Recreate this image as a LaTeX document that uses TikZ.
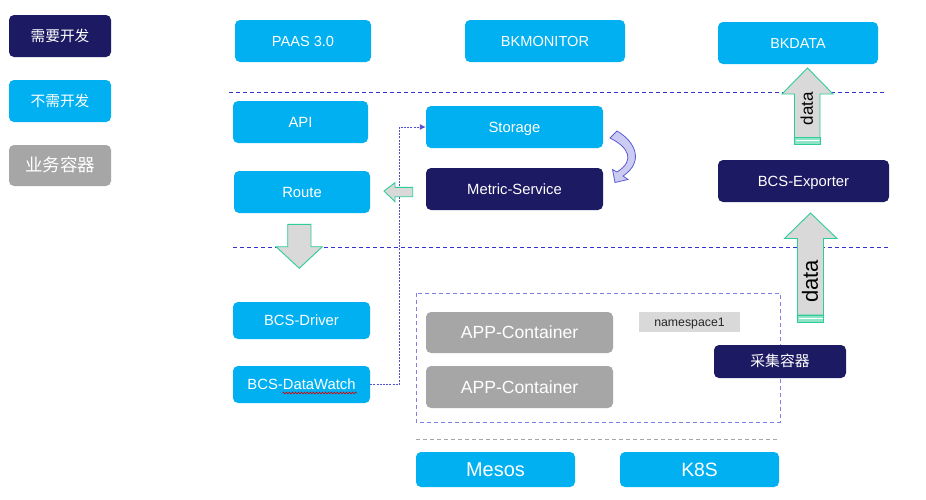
\documentclass[tikz,border=0pt]{standalone}
\usepackage{fontspec}
\setmainfont{Liberation Sans}
\newfontfamily\cjk{Noto Sans CJK SC}
\usetikzlibrary{arrows.meta,decorations.pathmorphing}
\definecolor{lblue}{HTML}{00B0F0}
\definecolor{navy}{HTML}{1C1A63}
\definecolor{cgray}{HTML}{A6A6A6}
\definecolor{sepblue}{HTML}{3333CC}
\definecolor{boxblue}{HTML}{7F7FE6}
\definecolor{arrgray}{HTML}{D9D9D9}
\definecolor{arrgreen}{HTML}{2ECC99}
\definecolor{stripe}{HTML}{8FE3C6}
\definecolor{lav}{HTML}{CCCCF2}
\definecolor{lavline}{HTML}{5B5BD6}
\definecolor{connc}{HTML}{5050D0}
\tikzset{
  boxb/.style={rounded corners=5pt, inner sep=0pt, text=white, align=center},
  lb/.style={boxb, fill=lblue},
  nv/.style={boxb, fill=navy},
  gy/.style={boxb, fill=cgray},
  fs/.style={font=\fontsize{#1}{#1}\selectfont, text height=0.72*#1, text depth=0},
  fr/.style={font=\fontsize{#1}{#1}\selectfont},
  sep/.style={draw=sepblue, dash pattern=on 4pt off 3pt, line width=0.8pt},
  blockarrow/.style={fill=arrgray, draw=arrgreen, line width=0.9pt, line join=miter},
  conn/.style={draw=connc, dash pattern=on 2pt off 1.2pt, line width=0.9pt, -{Latex[length=6pt,width=6pt]}},
}
\begin{document}
\begin{tikzpicture}[x=1pt,y=-1pt]
\useasboundingbox (0,0) rectangle (926,499);
\fill[white] (0,0) rectangle (926,499);

% legend
\node[nv, fs=14.7, minimum width=102, minimum height=42] (l1) at (60,36) {\cjk 需要开发};
\node[lb, fs=14.7, minimum width=102, minimum height=42] (l2) at (60,101) {\cjk 不需开发};
\node[gy, fs=17.5, minimum width=102, minimum height=41] (l3) at (60,165.5) {\cjk 业务容器};

% top row
\node[lb, fs=14.6, minimum width=136, minimum height=42] (paas) at (303,41) {PAAS 3.0};
\node[lb, fs=14.6, minimum width=160, minimum height=42] (bkmon) at (545,41) {BKMONITOR};
\node[lb, fs=14.4, minimum width=160, minimum height=42] (bkdata) at (798,43) {BKDATA};

% separators
\draw[sep] (229,92.5) -- (885,92.5);
\draw[sep] (233,247.5) -- (888,247.5);
\draw[draw=cgray, dash pattern=on 4pt off 3pt, line width=0.8pt] (416,439) -- (780,439);

% middle
\node[lb, fs=14.8, minimum width=135, minimum height=42] (api) at (300.5,122) {API};
\node[lb, fs=14.8, minimum width=136, minimum height=42] (route) at (302,192) {Route};
\node[lb, fs=14.8, minimum width=177, minimum height=42] (storage) at (514.5,127) {Storage};
\node[nv, fs=14.8, minimum width=177, minimum height=42] (metric) at (514.5,189) {Metric-Service};
\node[nv, fs=14.8, minimum width=171, minimum height=42] (exporter) at (803.5,181) {BCS-Exporter};

% lower
\node[lb, fs=14.8, minimum width=137, minimum height=37] (driver) at (301.5,320.5) {BCS-Driver};
\node[lb, fs=14.8, minimum width=137, minimum height=37] (dw) at (301.5,384.5) {BCS-DataWatch};
\draw[red!85!black, line width=0.6pt, decorate, decoration={snake, amplitude=0.9pt, segment length=3pt}] (282.5,393) -- (356.5,393);

\draw[draw=boxblue, dash pattern=on 4pt off 3pt, line width=0.8pt] (416,293) rectangle (780,422);
\node[gy, fs=17.6, minimum width=187, minimum height=41] (app1) at (519.5,332.5) {APP-Container};
\node[gy, fs=17.6, minimum width=187, minimum height=42] (app2) at (519.5,387) {APP-Container};
\node[fill=arrgray, inner sep=0pt, text=black!85, fs=12.3, minimum width=101, minimum height=20] (ns) at (689.5,322) {namespace1};
\node[nv, fs=14.8, minimum width=132, minimum height=33] (cj) at (780,361.5) {\cjk 采集容器};

\node[lb, fs=20, minimum width=159, minimum height=35] (mesos) at (495.5,469.5) {Mesos};
\node[lb, fs=19.3, minimum width=159, minimum height=35] (k8s) at (699.5,469.5) {K8S};

% connector
\draw[conn] (dw.east) -- ++(29,0) |- (storage.west);

% block arrow Metric -> Route
\draw[blockarrow] (384,191) -- (395,182.7) -- (395,187.3) -- (412.7,187.3) -- (412.7,196.7) -- (395,196.7) -- (395,201.7) -- cycle;
% block arrow Route -> down
\draw[blockarrow] (287.7,224.3) -- (311,224.3) -- (311,246.7) -- (322.3,246.7) -- (299.3,268.3) -- (276,246.7) -- (287.7,246.7) -- cycle;

% data arrow top
\draw[blockarrow] (807.5,68) -- (833,94) -- (820,94) -- (820,137.5) -- (794.5,137.5) -- (794.5,94) -- (782,94) -- cycle;
\draw[fill=stripe, draw=arrgreen, line width=0.8pt] (794.5,137.5) rectangle (820,144);
\draw[white, line width=0.8pt] (795.5,140.8) -- (819,140.8);
\node[rotate=90, fr=17, inner sep=0pt] (d1) at (806.7,108.5) {data};

% data arrow bottom
\draw[blockarrow] (810.5,213) -- (837,238.5) -- (823.5,238.5) -- (823.5,315) -- (797.5,315) -- (797.5,238.5) -- (784.5,238.5) -- cycle;
\draw[fill=stripe, draw=arrgreen, line width=0.8pt] (797.5,315) rectangle (823.5,322);
\draw[white, line width=0.8pt] (798.5,318.5) -- (822.5,318.5);
\node[rotate=90, fr=22, inner sep=0pt] (d2) at (810,281.5) {data};

% curved arrow Storage -> Metric
\draw[fill=lav, draw=lavline, line width=0.8pt, line join=miter]
  (610,138) -- (617,131)
  .. controls (636,142) and (644,162) .. (623,176)
  -- (628,179.5) -- (615,182.5) -- (612.5,169.5) -- (617,172)
  .. controls (636,160) and (628,147) .. (610,138) -- cycle;
\end{tikzpicture}
\end{document}
